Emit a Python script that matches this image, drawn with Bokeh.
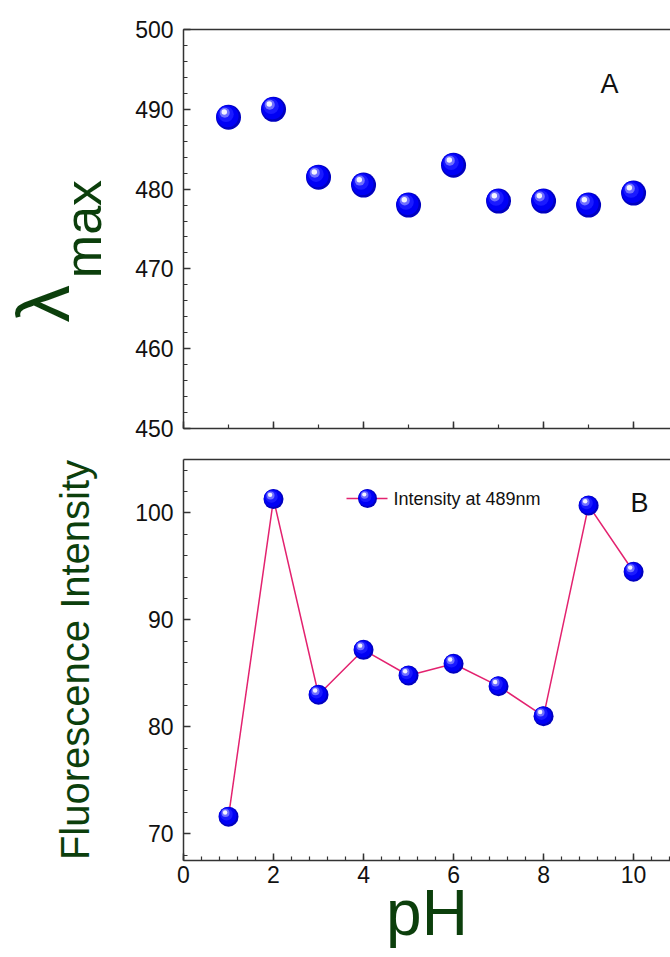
import numpy as np
from bokeh.plotting import figure
from bokeh.layouts import column
from bokeh.models import SingleIntervalTicker, LinearAxis, Label, Range1d, Title, FixedTicker
from bokeh.embed import file_html
from bokeh.resources import INLINE

# ---- data ----
ph = [1, 2, 3, 4, 5, 6, 7, 8, 9, 10]
lambda_max = [489.0, 490.0, 481.5, 480.5, 478.0, 483.0, 478.5, 478.5, 478.0, 479.5]
intensity = [71.6, 101.3, 83.0, 87.2, 84.8, 85.9, 83.8, 81.0, 100.7, 94.5]
legend_label = "Intensity at 489nm"

GREEN = "#0C3F0C"
FONT = "Liberation Sans"
LINE_PINK = "#E3226F"

W = 670
LEFT = 183
XMAX = 10.82
FRAME_W = W - LEFT


def style_axes(p, y_interval, x_labels=True):
    for ax in p.axis:
        ax.axis_line_color = "#333333"
        ax.axis_line_width = 1.5
        ax.major_tick_line_color = "#333333"
        ax.minor_tick_line_color = "#333333"
        ax.major_tick_line_width = 1.5
        ax.minor_tick_line_width = 1.2
        ax.major_tick_in = 7
        ax.major_tick_out = 0
        ax.minor_tick_in = 4
        ax.minor_tick_out = 0
        ax.major_label_text_font = FONT
        ax.major_label_text_font_size = "23px"
        ax.major_label_text_color = "#111111"
        ax.axis_label_text_font = FONT
        ax.axis_label_text_font_style = "normal"
        ax.axis_label_text_color = GREEN
    p.yaxis.ticker = SingleIntervalTicker(interval=y_interval, num_minor_ticks=5)
    p.yaxis.major_label_standoff = 10
    if not x_labels:
        p.xaxis.major_label_text_font_size = "1px"
        p.xaxis.major_label_text_color = None
        p.xaxis.major_label_standoff = 0
    else:
        p.xaxis.major_label_standoff = 5
    p.xgrid.visible = False
    p.ygrid.visible = False
    p.outline_line_color = None
    top = LinearAxis(ticker=FixedTicker(ticks=[]),
                     axis_line_color="#333333", axis_line_width=1.5,
                     major_tick_line_color=None, minor_tick_line_color=None,
                     major_label_text_font_size="1px", major_label_text_color=None,
                     major_label_standoff=0)
    p.add_layout(top, "above")


def balls(p, xs, ys, size, xs_px, ys_px):
    xs = np.asarray(xs, float)
    ys = np.asarray(ys, float)
    layers = [
        (1.00, 0.00, 0.00, "#0000C0"),
        (0.88, -0.04, -0.04, "#0000F5"),
        (0.62, -0.10, -0.12, "#1A1AFF"),
        (0.40, -0.15, -0.18, "#7070FF"),
        (0.22, -0.17, -0.21, "#F4F4FF"),
    ]
    for f, ox, oy, col in layers:
        p.scatter(xs + ox * size / xs_px, ys - oy * size / ys_px,
                  size=size * f, fill_color=col, line_color=None)


def lab(p, x, y, text, size, color="#111111", font=FONT,
        align="center", baseline="middle"):
    p.add_layout(Label(x=x, y=y, text=text, text_font_size=size, text_color=color,
                       text_font=font, text_align=align, text_baseline=baseline))


# ---------------- Panel A ----------------
HA = 445
A_TOP, A_BOT = 29, 428
ya0, ya1 = 450, 500
pa = figure(width=W, height=HA, output_backend="svg", toolbar_location=None,
            x_range=Range1d(0, XMAX), y_range=Range1d(ya0, ya1),
            min_border_left=LEFT, min_border_right=0,
            min_border_top=A_TOP, min_border_bottom=HA - A_BOT)
style_axes(pa, 10, x_labels=False)
pa.below[0].ticker = SingleIntervalTicker(interval=2, num_minor_ticks=2)
pa.yaxis.axis_label = "max"
pa.yaxis.axis_label_text_font_size = "52px"
pa.yaxis.axis_label_standoff = 20
pa.add_layout(Title(text="λ", text_font=FONT, text_font_size="75px", text_color=GREEN,
                    text_font_style="normal", align="left", offset=106,
                    standoff=-66, vertical_align="bottom"), "left")

ax_px = FRAME_W / XMAX
ay_px = (A_BOT - A_TOP) / (ya1 - ya0)
fxa = lambda px: (px - LEFT) / ax_px
fya = lambda py: ya1 - (py - A_TOP) / ay_px

balls(pa, ph, lambda_max, 25, ax_px, ay_px)
lab(pa, fxa(609), fya(83), "A", "27px")

# ---------------- Panel B ----------------
HB = 957 - HA
B_TOP, B_BOT = 459 - HA, 860 - HA
yb0, yb1 = 67.5, 105
pb = figure(width=W, height=HB, output_backend="svg", toolbar_location=None,
            x_range=Range1d(0, XMAX), y_range=Range1d(yb0, yb1),
            min_border_left=LEFT, min_border_right=0,
            min_border_top=B_TOP, min_border_bottom=HB - B_BOT)
style_axes(pb, 10, x_labels=True)
bottom_axis = pb.below[0]
bottom_axis.ticker = SingleIntervalTicker(interval=2, num_minor_ticks=5)
bottom_axis.axis_label = "pH"
bottom_axis.axis_label_text_font_size = "64px"
bottom_axis.axis_label_standoff = -9
pb.yaxis.axis_label = "Fluorescence Intensity"
pb.yaxis.axis_label_text_font_size = "40px"
pb.yaxis.axis_label_standoff = 35

bx_px = FRAME_W / XMAX
by_px = (B_BOT - B_TOP) / (yb1 - yb0)
fxb = lambda px: (px - LEFT) / bx_px
fyb = lambda py: yb1 - (py - HA - B_TOP) / by_px

pb.line(ph, intensity, line_color=LINE_PINK, line_width=1.5)
balls(pb, ph, intensity, 20, bx_px, by_px)

# legend
pb.line([fxb(346), fxb(387)], [fyb(498), fyb(498)], line_color=LINE_PINK, line_width=1.5)
balls(pb, [fxb(367)], [fyb(498)], 19, bx_px, by_px)
lab(pb, fxb(393), fyb(498), legend_label, "18px", align="left")

lab(pb, fxb(639), fyb(502), "B", "27px")

layout = column(pa, pb, spacing=0)
open("out.html", "w").write(file_html(layout, INLINE))
